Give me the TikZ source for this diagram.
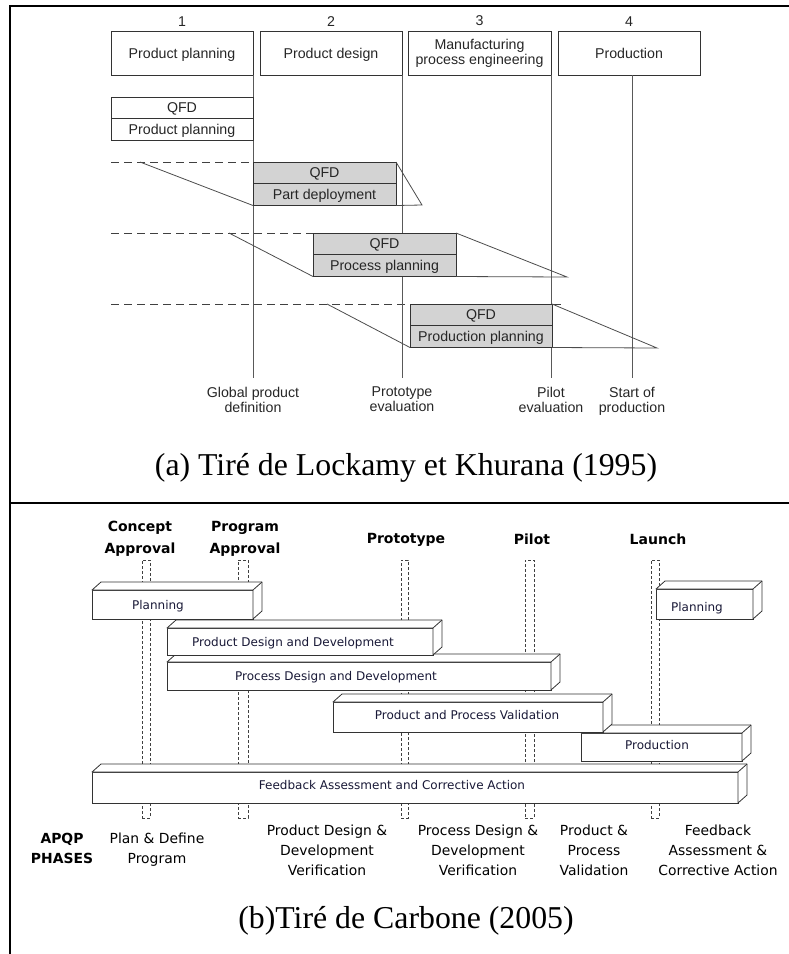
\documentclass[tikz,border=0pt]{standalone}
\usepackage{fontspec}
\setmainfont{Liberation Serif}
\newfontfamily\arialfont{Liberation Sans}
\newfontfamily\tahfont{DejaVu Sans}
\usepackage{tikz}
\usetikzlibrary{positioning, calc}

\definecolor{barink}{RGB}{25,25,55}
\definecolor{qgray}{RGB}{211,211,211}

% top and right faces of a 3D bar
\newcommand{\barsides}[1]{%
  \filldraw[side] (#1.north west) -- ++(9,-8) -- ([shift={(9,-8)}]#1.north east)
    -- ([shift={(9,-8)}]#1.south east) -- (#1.south east) -- (#1.north east) -- cycle;
  \draw[side] (#1.north east) -- ++(9,-8);}
\newcommand{\linestrut}{\rule[-3pt]{0pt}{16pt}}

\begin{document}
\begin{tikzpicture}[
    x=1pt, y=-1pt,
    every node/.style={inner sep=0pt, outer sep=0pt},
    frameline/.style={line width=2.2pt},
    struts/.style={execute at begin node=\linestrut, execute at end node=\linestrut},
    num/.style={font=\arialfont\fontsize{14.2}{15}\selectfont, text=black!85},
    hdr/.style={struts, draw=black!80, line width=0.9pt, minimum width=142, minimum height=44, font=\arialfont\fontsize{14.2}{15}\selectfont, text=black!85, align=center},
    qbox/.style={struts, draw=black!80, line width=0.9pt, fill=white, minimum width=142, minimum height=21.75, font=\arialfont\fontsize{14.2}{15}\selectfont, text=black!85},
    gbox/.style={qbox, fill=qgray, minimum width=143},
    tline/.style={draw=black!65, line width=1pt},
    trap/.style={draw=black!70, line width=0.8pt},
    guide/.style={draw=black!75, line width=0.8pt, dash pattern=on 8pt off 5pt},
    evt/.style={struts, font=\arialfont\fontsize{14.2}{15}\selectfont, text=black!85, align=center},
    caption/.style={font=\fontsize{31.8}{36}\selectfont},
    mile/.style={draw=black!75, line width=0.7pt, dash pattern=on 3pt off 2pt, minimum width=8, minimum height=258, anchor=north west},
    mlbl/.style={struts, font=\tahfont\bfseries\fontsize{14}{22}\selectfont, align=center},
    bar/.style={draw=black!80, line width=0.8pt, fill=white, anchor=north west},
    side/.style={draw=black!80, line width=0.8pt, fill=white, line join=round},
    bartxt/.style={font=\tahfont\fontsize{12}{14}\selectfont, text=barink, execute at begin node=\rule[-3pt]{0pt}{14pt}},
    phase/.style={struts, font=\tahfont\fontsize{13.9}{20}\selectfont, align=center}
]
    \useasboundingbox (0,0) rectangle (789,954);

    % frame
    \coordinate (fbl) at (10,954);
    \coordinate (ftl) at (10,6);
    \coordinate (ftr) at (789,6);
    \coordinate (fml) at (10,503);
    \coordinate (fmr) at (789,503);
    \draw[frameline] (fbl) -- (ftl) -- (ftr);
    \draw[frameline] (fml) -- (fmr);

    % (a) phases
    \node[hdr, anchor=north west] (hd1) at (111,31) {Product planning};
    \node[hdr, right=7pt of hd1] (hd2) {Product design};
    \node[hdr, right=6pt of hd2, minimum width=143] (hd3) {Manufacturing\\process engineering};
    \node[hdr, right=7pt of hd3] (hd4) {Production};
    \node[num, above=5pt of hd1] (n1) {1};
    \node[num, above=5pt of hd2] (n2) {2};
    \node[num, above=5pt of hd3] (n3) {3};
    \node[num, above=5pt of hd4] (n4) {4};

    \node[evt] (gpd) at (253,401) {Global product\\definition};
    \node[evt] (pte) at (402,401) {Prototype\\evaluation};
    \node[evt] (ple) at (551,401) {Pilot\\evaluation};
    \node[evt] (sop) at (632,401) {Start of\\production};

    % dashed guides
    \coordinate (d1) at (111,162);
    \coordinate (d2) at (111,233);
    \coordinate (d3) at (111,304);
    \coordinate (d3e) at (563,304);
    \coordinate (s1) at (140,162);
    \coordinate (s2) at (229,233);
    \coordinate (s3) at (327,304);
    \coordinate (e1) at (422,205);
    \coordinate (e2) at (567,277);
    \coordinate (e3) at (657,348);
    \draw[guide] (d3) -- (d3e);

    \draw[tline, shorten >=9pt] (hd1.south east) -- (gpd.north);
    \draw[tline, shorten >=9pt] (hd2.south east) -- (pte.north);
    \draw[tline, shorten >=9pt] (hd3.south east) -- (ple.north);
    \draw[tline, shorten >=9pt] (sop.north |- hd4.south) -- (sop.north);

    % QFD houses
    \node[qbox, anchor=north west] (qfd1) at (111,97) {QFD};
    \node[qbox, below=0pt of qfd1] (ppl) {Product planning};
    \node[gbox, anchor=north west] (qfd2) at (253,162) {QFD};
    \node[gbox, below=0pt of qfd2] (pdep) {Part deployment};
    \node[gbox, anchor=north west] (qfd3) at (313,233) {QFD};
    \node[gbox, below=0pt of qfd3] (prpl) {Process planning};
    \node[gbox, anchor=north west, minimum width=142] (qfd4) at (410,304) {QFD};
    \node[gbox, below=0pt of qfd4, minimum width=142] (pdpl) {Production planning};

    \draw[guide] (d1) -- (qfd2.north west);
    \draw[guide] (d2) -- (qfd3.north west);
    \draw[trap] (s1) -- (pdep.south west);
    \draw[trap] (qfd2.north east) -- (e1) -- (pdep.south east);
    \draw[trap] (s2) -- (prpl.south west);
    \draw[trap] (qfd3.north east) -- (e2) -- (prpl.south east);
    \draw[trap] (s3) -- (pdpl.south west);
    \draw[trap] (qfd4.north east) -- (e3) -- (pdpl.south east);

    \node[caption] (capa) at (406,468) {(a) Tiré de Lockamy et Khurana (1995)};

    % (b) milestones
    \node[mile] (mca) at (142,560) {};
    \node[mile, minimum width=10] (mpa) at (238,560) {};
    \node[mile, minimum width=7] (mpt) at (401,560) {};
    \node[mile, minimum width=9] (mpi) at (525,560) {};
    \node[mile] (mla) at (651,560) {};
    \node[mlbl] (lca) at (140,539) {Concept\\Approval};
    \node[mlbl] (lpa) at (245,539) {Program\\Approval};
    \node[mlbl] (lpt) at (406,539) {Prototype};
    \node[mlbl] (lpi) at (532,539) {Pilot};
    \node[mlbl] (lla) at (658,539) {Launch};

    % (b) bars, lowest first
    \node[bar, minimum width=646, minimum height=31] (fb) at (92,772) {};
    \barsides{fb}
    \node[bartxt] (fbt) at (392,785) {Feedback Assessment and Corrective Action};
    \node[bar, minimum width=161, minimum height=28] (prod) at (581,733) {};
    \barsides{prod}
    \node[bartxt] (prodt) at (657,745) {Production};
    \node[bar, minimum width=270, minimum height=30] (ppv) at (333,702) {};
    \barsides{ppv}
    \node[bartxt] (ppvt) at (467,715) {Product and Process Validation};
    \node[bar, minimum width=384, minimum height=28] (prc) at (167,662) {};
    \barsides{prc}
    \node[bartxt] (prct) at (336,676) {Process Design and Development};
    \node[bar, minimum width=266, minimum height=27] (pdd) at (167,628) {};
    \barsides{pdd}
    \node[bartxt] (pddt) at (293,642) {Product Design and Development};
    \node[bar, minimum width=161, minimum height=29] (pl1) at (92,590) {};
    \barsides{pl1}
    \node[bartxt] (pl1t) at (158,605) {Planning};
    \node[bar, minimum width=97, minimum height=30] (pl2) at (656,589) {};
    \barsides{pl2}
    \node[bartxt] (pl2t) at (697,607) {Planning};

    % (b) phases
    \node[phase, font=\tahfont\bfseries\fontsize{13.9}{20}\selectfont] (apqp) at (62,850) {APQP\\PHASES};
    \node[phase] (ph1) at (157,850) {Plan \& Define\\Program};
    \node[phase] (ph2) at (327,852) {Product Design \&\\Development\\Verification};
    \node[phase] (ph3) at (478,852) {Process Design \&\\Development\\Verification};
    \node[phase] (ph4) at (594,852) {Product \&\\Process\\Validation};
    \node[phase] (ph5) at (718,852) {Feedback\\Assessment \&\\Corrective Action};

    \node[caption] (capb) at (406,921) {(b)Tiré de Carbone (2005)};
\end{tikzpicture}
\end{document}
